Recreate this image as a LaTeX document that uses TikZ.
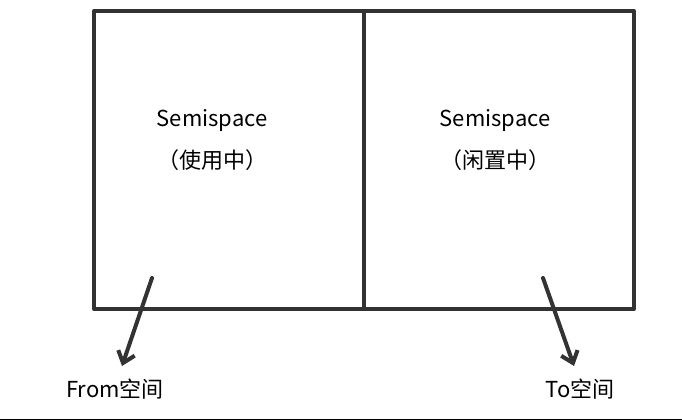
\documentclass[tikz,border=0pt]{standalone}
\usepackage{fontspec}
\setmainfont{Noto Sans CJK SC}
\usetikzlibrary{arrows.meta}
\definecolor{ink}{HTML}{333333}
\begin{document}
\begin{tikzpicture}[x=0.75pt,y=-0.75pt,
  box/.style={draw=ink,line width=3pt,line join=round},
  lbl/.style={font=\fontsize{16.5}{19}\selectfont,align=center,inner sep=0pt},
  arr/.style={draw=ink,line width=3pt,line cap=round,-{Straight Barb[length=8pt,width=13pt,line width=3pt]}}]
\useasboundingbox (0,0) rectangle (682,420);
\draw[black,line width=0.75pt] (0,419) -- (682,419);
\node[box,minimum width=270*0.75pt,minimum height=298*0.75pt,anchor=north west,inner sep=0pt] (from) at (92,9) {};
\node[box,minimum width=270*0.75pt,minimum height=298*0.75pt,anchor=north west,inner sep=0pt] (to) at (362,9) {};
\node[lbl] (t1) at (212,120) {Semispace};
\node[lbl] (t2) at (212,160) {（使用中）};
\node[lbl] (t3) at (495,120) {Semispace};
\node[lbl] (t4) at (495,160) {（闲置中）};
\node[lbl] (fl) at (115,389) {From空间};
\node[lbl] (tl) at (580,389) {To空间};
\coordinate (a1) at (152,278);
\coordinate (a2) at (122,366);
\coordinate (b1) at (543,278);
\coordinate (b2) at (574,366);
\draw[arr] (a1) -- (a2);
\draw[arr] (b1) -- (b2);
\end{tikzpicture}
\end{document}
